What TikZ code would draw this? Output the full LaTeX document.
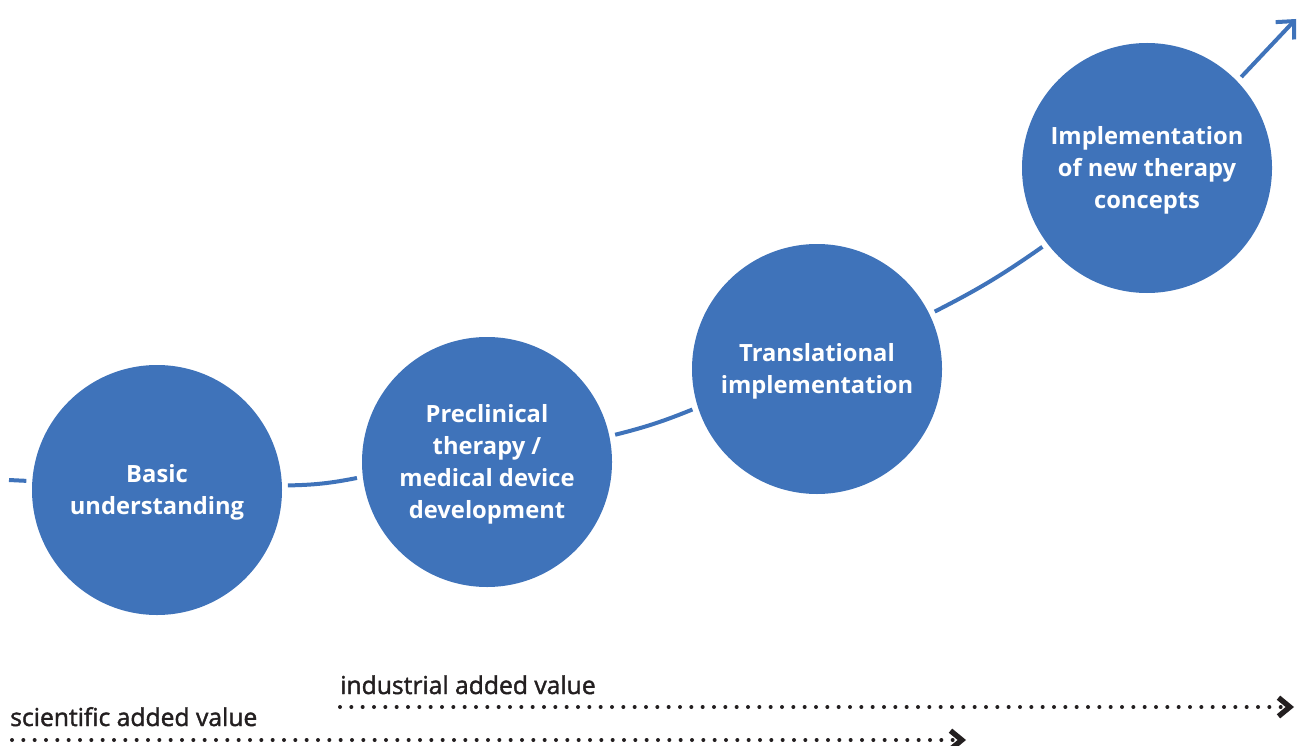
\documentclass[tikz,border=0pt]{standalone}
\usepackage{fontspec}
\setmainfont{Open Sans}
\newfontfamily\semib{Open Sans}[FakeBold=1.6]
\usetikzlibrary{arrows.meta}
\definecolor{stepblue}{HTML}{3F73BA}
\definecolor{txtdark}{HTML}{231F20}
\newcommand\stagetext[1]{\raisebox{-1.8pt}[\height][\depth]{\begin{tabular}{@{}c@{}}#1\end{tabular}}}
\begin{document}
\begin{tikzpicture}[x=0.75pt,y=-0.75pt,
  stage/.style={circle,fill=stepblue,minimum size=187.5pt,inner sep=0pt,outer sep=4.5pt,
    text=white,font=\bfseries\fontsize{17.8}{24}\selectfont},
  flow/.style={draw=stepblue,line width=3pt},
  valuelab/.style={anchor=base west,text=txtdark,inner sep=0pt,font=\semib\fontsize{18.5}{20}\selectfont},
  valueline/.style={draw=txtdark,line width=3pt,line cap=round,dash pattern=on 0pt off 8.5pt,
    -{Straight Barb[length=8.5pt,width=14pt,line width=4pt]}}]
\useasboundingbox (0,0) rectangle (1301,745);
\node[stage] (c1) at (157,490) {\stagetext{Basic\\understanding}};
\node[stage] (c2) at (487,462) {\stagetext{Preclinical\\therapy /\\medical device\\development}};
\node[stage] (c3) at (817,369) {\stagetext{Translational\\implementation}};
\node[stage] (c4) at (1147,168) {\stagetext{Implementation\\of new therapy\\concepts}};
\coordinate (s0) at (9,480);
\coordinate (tip) at (1296,19);
\draw[flow] (s0) -- (c1.176.5);
\draw[flow] (c1.2.2) to[bend right=5] (c2.187);
\draw[flow] (c2.12.6) to[bend right=4] (c3.198);
\draw[flow] (c3.26.6) to[bend right=4] (c4.217);
\draw[flow,-{Straight Barb[length=10pt,width=19pt,line width=3pt]}] (c4.44) -- (tip);
\node[valuelab] (ind) at (340,694) {industrial added value};
\node[valuelab] (sci) at (10,726) {scientific added value};
\coordinate (indA) at (340,707);
\coordinate (indB) at (1294,707);
\coordinate (sciA) at (12,740);
\coordinate (sciB) at (966,740);
\draw[valueline] (indA) -- (indB);
\draw[valueline] (sciA) -- (sciB);
\end{tikzpicture}
\end{document}
